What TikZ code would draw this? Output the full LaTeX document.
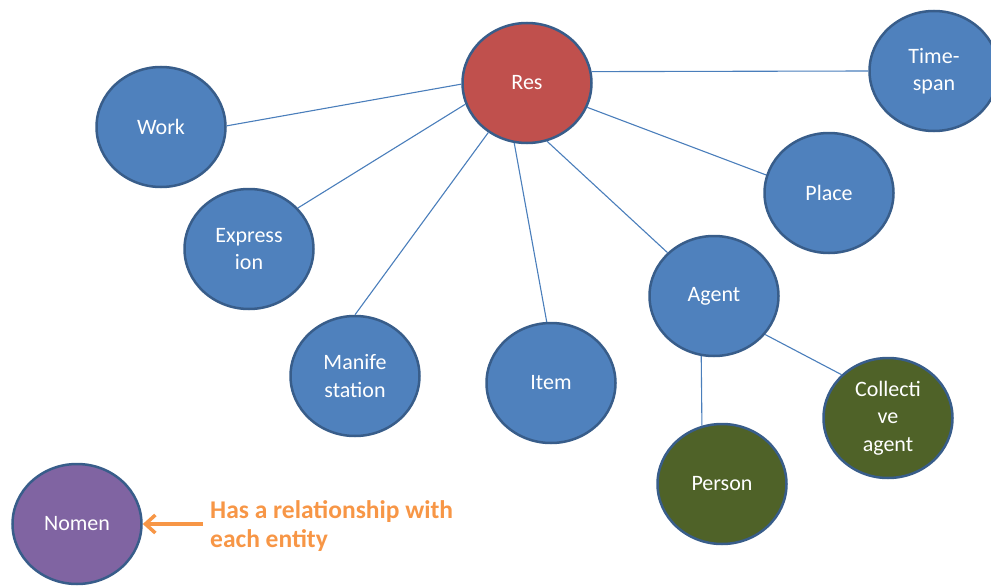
\documentclass[tikz,border=0pt]{standalone}
\usepackage{fontspec}
\setmainfont{Carlito}
\usetikzlibrary{shapes.geometric,arrows.meta}
\definecolor{entblue}{HTML}{4F81BD}
\definecolor{resred}{HTML}{C0504D}
\definecolor{agentgreen}{HTML}{4F6228}
\definecolor{nomenpurple}{HTML}{8064A2}
\definecolor{rimblue}{HTML}{385D8A}
\definecolor{linkblue}{HTML}{4A7EBB}
\definecolor{noteorange}{HTML}{F79646}

\begin{document}
\begin{tikzpicture}[x=1pt,y=-1pt,
	ent/.style={ellipse,draw=rimblue,line width=2.5pt,fill=entblue,text=white,
		minimum width=129pt,minimum height=120pt,inner sep=0pt,align=center,
		font=\fontsize{22}{27.5}\selectfont},
	link/.style={draw=linkblue,line width=1.1pt}]
	\useasboundingbox (0,0) rectangle (991,586);
	\node[ent,fill=resred] (res) at (527,83) {Res};
	\node[ent] (work) at (161,127) {Work};
	\node[ent] (expr) at (249,249) {Express\\ion};
	\node[ent] (mani) at (355,376) {Manife\\station};
	\node[ent] (item) at (551,383) {Item};
	\node[ent] (agent) at (714,296) {Agent};
	\node[ent] (place) at (829,193) {Place};
	\node[ent] (time) at (934,71) {Time-\\span};
	\node[ent,fill=agentgreen] (person) at (722,484) {Person};
	\node[ent,fill=agentgreen] (coll) at (888,418) {Collecti\\ve\\agent};
	\node[ent,fill=nomenpurple] (nomen) at (77,524) {Nomen};
	\foreach \a/\b/\c in {181/work/1,199/expr/40,232/mani/90,258/item/94,
		289/agent/137,338/place/164,10/time/180}{
		\draw[link] (res.\a) -- (\b.\c);}
	\draw[link] (agent.258) -- (person.109);
	\draw[link] (agent.323) -- (coll.137);
	\node[anchor=base west,inner sep=0pt,align=left,text=noteorange,
		font=\bfseries\fontsize{25.5}{28.5}\selectfont] (note) at (210,547)
		{Has a relationship with\\each entity};
	\coordinate (tail) at (203,524);
	\draw[noteorange,line width=3.5pt,-{Straight Barb[length=10pt,width=18pt]}]
		(tail) -- (nomen.east);
\end{tikzpicture}
\end{document}
